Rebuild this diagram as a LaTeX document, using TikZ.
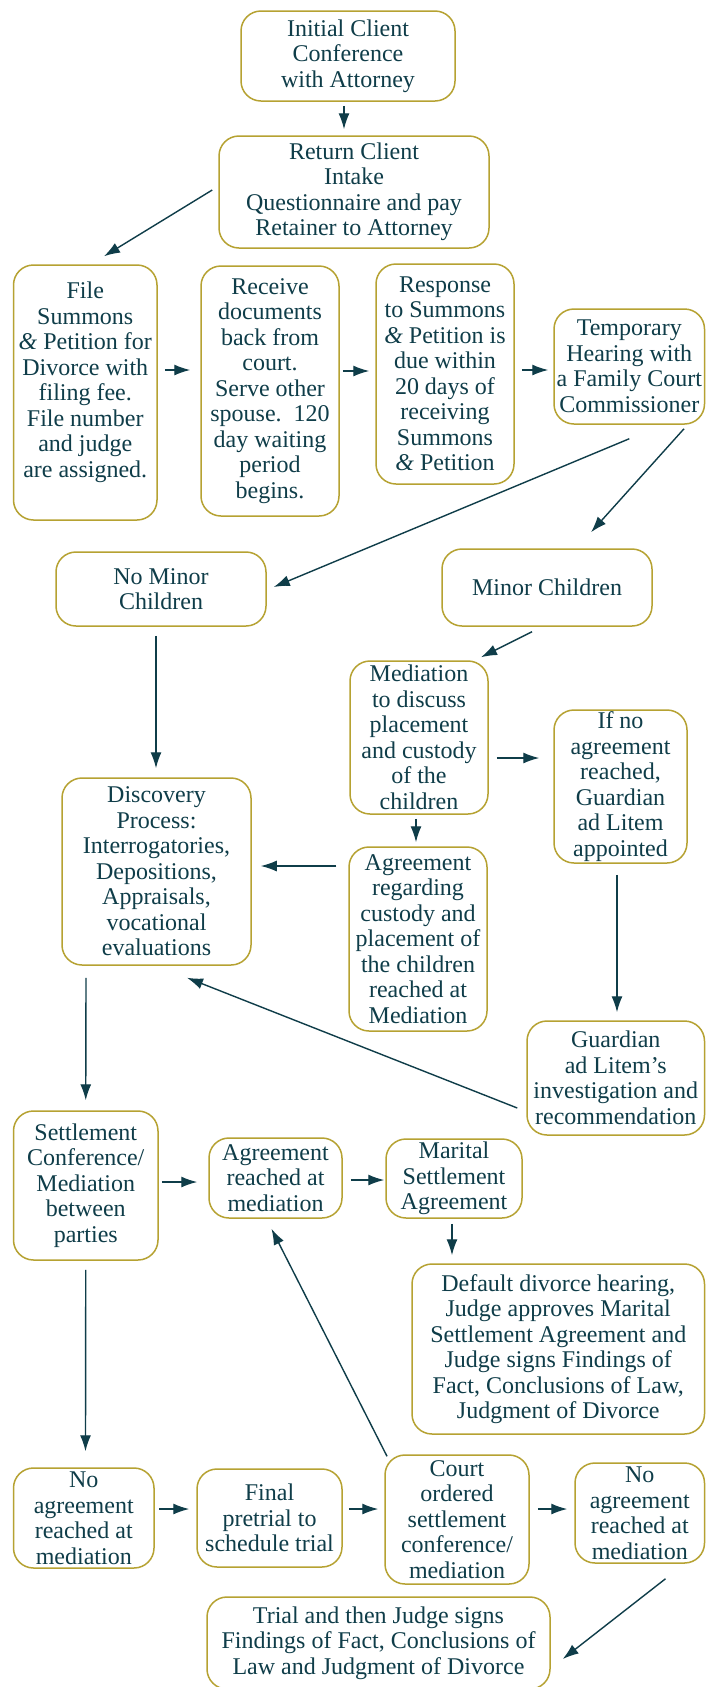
\documentclass[tikz,border=0pt]{standalone}
\usepackage{fontspec}
\setmainfont{Liberation Serif}
\usetikzlibrary{arrows.meta,calc}
\definecolor{ink}{HTML}{0F3D49}
\definecolor{gold}{HTML}{B6A232}
\newcommand{\amp}{\textit{\&}}
\begin{document}
\begin{tikzpicture}[x=1pt,y=-1pt,
  box/.style={draw=gold,line width=1.5pt,rounded corners=20pt,fill=white,
    text=ink,align=center,inner sep=0pt,
    font=\fontsize{24}{25.5}\selectfont},
  arr/.style={draw=ink,line width=1.4pt,-{Latex[length=16pt,width=11pt]}}]
\useasboundingbox (0,0) rectangle (706,1687);
\fill[white] (0,0) rectangle (706,1687);
% boxes
\node[box,minimum width=214pt,minimum height=90pt] (init) at (348,56) {Initial Client\\Conference\\with Attorney};
\node[box,minimum width=270pt,minimum height=112pt] (ret) at (354,192) {Return Client\\Intake\\Questionnaire and pay\\Retainer to Attorney};
\node[box,minimum width=143.5pt,minimum height=255pt] (file) at (85.25,392.5) {File\\Summons\\\amp{} Petition for\\Divorce with\\filing fee.\\File number\\and judge\\are assigned.\\~};
\node[box,minimum width=138pt,minimum height=250pt] (recv) at (270,391) {Receive\\documents\\back from\\court.\\Serve other\\spouse.\ \ 120\\day waiting\\period\\begins.};
\node[box,minimum width=138pt,minimum height=220pt] (resp) at (445,374) {Response\\to Summons\\\amp{} Petition is\\due within\\20 days of\\receiving\\Summons\\\amp{} Petition};
\node[box,minimum width=150.5pt,minimum height=115pt] (temp) at (629.25,366.5) {Temporary\\Hearing with\\a Family Court\\Commissioner};
\node[box,minimum width=210pt,minimum height=74pt] (nominor) at (161,589) {No Minor\\Children};
\node[box,minimum width=210pt,minimum height=77pt] (minor) at (547,587.5) {Minor Children};
\node[box,minimum width=138pt,minimum height=153pt] (med) at (419,737.5) {Mediation\\to discuss\\placement\\and custody\\of the\\children};
\node[box,minimum width=133pt,minimum height=153pt] (ifno) at (620.5,786.5) {If no\\agreement\\reached,\\Guardian\\ad Litem\\appointed};
\node[box,minimum width=189pt,minimum height=187pt] (disc) at (156.5,871.5) {Discovery\\Process:\\Interrogatories,\\Depositions,\\Appraisals,\\vocational\\evaluations};
\node[box,minimum width=138pt,minimum height=184pt] (agrcust) at (418,939) {Agreement\\regarding\\custody and\\placement of\\the children\\reached at\\Mediation};
\node[box,minimum width=177.5pt,minimum height=114pt] (gal) at (615.75,1078) {Guardian\\ad Litem's\\investigation and\\recommendation};
\node[box,minimum width=144.5pt,minimum height=149pt] (settle) at (85.75,1185.5) {Settlement\\Conference/\\Mediation\\between\\parties};
\node[box,minimum width=133pt,minimum height=80pt] (agrmed) at (275.5,1178) {Agreement\\reached at\\mediation};
\node[box,minimum width=136pt,minimum height=79pt] (msa) at (454,1178.5) {Marital\\Settlement\\Agreement};
\node[box,minimum width=292.5pt,minimum height=170pt] (default) at (558.25,1349) {Default divorce hearing,\\Judge approves Marital\\Settlement Agreement and\\Judge signs Findings of\\Fact, Conclusions of Law,\\Judgment of Divorce};
\node[box,minimum width=140.5pt,minimum height=100pt] (noagrL) at (83.75,1518) {No\\agreement\\reached at\\mediation};
\node[box,minimum width=145pt,minimum height=98pt] (final) at (269.5,1518) {Final\\pretrial to\\schedule trial};
\node[box,minimum width=144pt,minimum height=129pt] (court) at (457,1519.5) {Court\\ordered\\settlement\\conference/\\mediation};
\node[box,minimum width=129.5pt,minimum height=100pt] (noagrR) at (639.75,1513) {No\\agreement\\reached at\\mediation};
\node[box,minimum width=343pt,minimum height=92pt] (trial) at (378.5,1643) {Trial and then Judge signs\\Findings of Fact, Conclusions of\\Law and Judgment of Divorce};
% arrows
\draw[arr] ($(init.south)+(-4,4)$) -- ($(ret.north)+(-10,-6)$);
\draw[arr] ($(ret.west)+(-6,-2)$) -- ($(file.north)+(18.75,-8)$);
\draw[arr] ($(file.east)+(7,-22.5)$) -- ($(recv.west)+(-10,-21)$);
\draw[arr] ($(recv.east)+(3,-20)$) -- ($(resp.west)+(-6,-3)$);
\draw[arr] ($(resp.east)+(7,-4)$) -- ($(temp.west)+(-5,3.5)$);
\draw[arr] ($(temp.south)+(0,14)$) -- ($(nominor.east)+(7,-2)$);
\draw[arr] ($(temp.south)+(54.75,4)$) -- ($(minor.north)+(44,-16)$);
\draw[arr] ($(nominor.south)+(-5,9)$) -- ($(disc.north)+(-0.5,-9)$);
\draw[arr] ($(minor.south)+(-15,5)$) -- ($(med.north)+(62,-3)$);
\draw[arr] ($(med.east)+(8,20.5)$) -- ($(ifno.west)+(-14,-28.5)$);
\draw[arr] ($(med.south)+(-3,4)$) -- ($(agrcust.north)+(-2,-4)$);
\draw[arr] ($(agrcust.west)+(-12,-73)$) -- ($(disc.east)+(9,-5.5)$);
\draw[arr] ($(ifno.south)+(-3.5,11)$) -- ($(gal.north)+(1.25,-8)$);
\draw[arr] ($(gal.west)+(-9,30)$) -- ($(disc.south)+(30.5,12)$);
\draw[arr] ($(disc.south)+(-70.5,12)$) -- ($(settle.north)+(0,-10)$);
\draw[arr] ($(settle.east)+(3,-3.5)$) -- ($(agrmed.west)+(-11,4)$);
\draw[arr] ($(agrmed.east)+(8,2)$) -- ($(msa.west)+(-1,1.5)$);
\draw[arr] ($(msa.south)+(-2,5)$) -- ($(default.north)+(-106.25,-8)$);
\draw[arr] ($(settle.south)+(0,9)$) -- ($(noagrL.north)+(1.75,-16)$);
\draw[arr] ($(court.north)+(-70,2)$) -- ($(agrmed.south)+(-4,10)$);
\draw[arr] ($(noagrL.east)+(4.5,-9)$) -- ($(final.west)+(-7,-9)$);
\draw[arr] ($(final.east)+(6,-9)$) -- ($(court.west)+(-6,-10.5)$);
\draw[arr] ($(court.east)+(8,-10.5)$) -- ($(noagrR.west)+(-7,-4)$);
\draw[arr] ($(noagrR.south)+(25.75,15)$) -- ($(trial.east)+(12,16)$);
\end{tikzpicture}
\end{document}
